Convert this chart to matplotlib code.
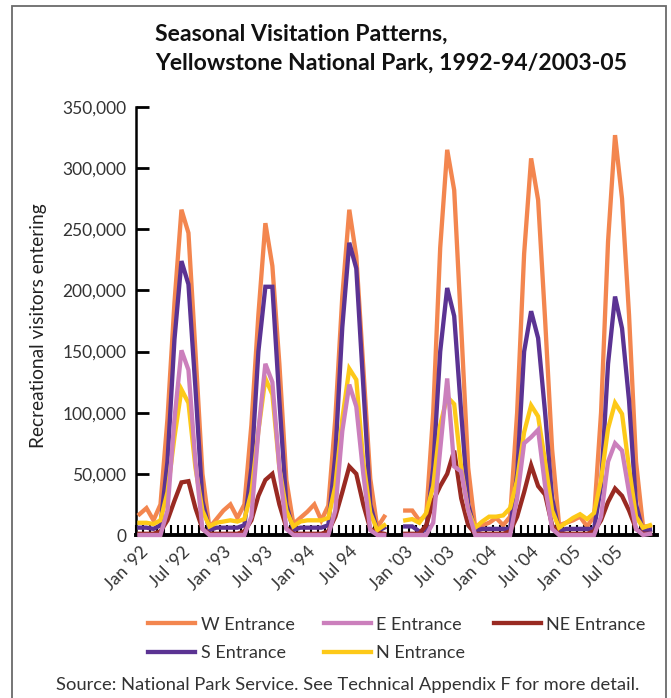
import matplotlib
matplotlib.use('Agg')
import matplotlib.pyplot as plt
import numpy as np
from matplotlib import font_manager as fm
from matplotlib.lines import Line2D
from matplotlib.patches import Rectangle

# ---------------- data (visitors per month) ----------------
# Group A: Jan 1992 - Dec 1994, Group B: Jan 2003 - Dec 2005
W_9294 = [17000, 22000, 12000, 25000, 95000, 190000, 266000, 247000, 150000, 50000, 6000, 13000,
          20000, 25000, 14000, 25000, 90000, 180000, 255000, 220000, 140000, 45000, 9000, 14000,
          19000, 25000, 12000, 24000, 95000, 195000, 266000, 228000, 137000, 46000, 6000, 15000]
W_0305 = [20000, 20000, 12000, 16000, 100000, 235000, 315000, 282000, 170000, 55000, 6000, 8000,
          10000, 14000, 8000, 15000, 100000, 230000, 308000, 274000, 176000, 70000, 8000, 10000,
          12000, 15000, 7000, 15000, 100000, 240000, 327000, 275000, 180000, 60000, 7000, 7000]

S_9294 = [6000, 6000, 5000, 8000, 60000, 160000, 224000, 205000, 120000, 28000, 4000, 6000,
          6000, 6000, 6000, 8000, 55000, 150000, 203000, 203000, 110000, 25000, 4000, 6000,
          6000, 6000, 6000, 8000, 65000, 170000, 239000, 218000, 122000, 25000, 3000, 6000]
S_0305 = [7000, 7000, 3000, 4000, 55000, 150000, 202000, 179000, 100000, 25000, 3000, 5000,
          5000, 5000, 5000, 5000, 50000, 150000, 183000, 161000, 100000, 30000, 3000, 5000,
          5000, 5000, 5000, 5000, 40000, 140000, 195000, 169000, 110000, 25000, 3000, 4000]

E_9294 = [0, 0, 0, 0, 20000, 95000, 151000, 135000, 60000, 5000, 0, 0,
          0, 0, 0, 0, 15000, 85000, 140000, 125000, 55000, 5000, 0, 0,
          0, 0, 0, 0, 20000, 85000, 123000, 105000, 50000, 4000, 0, 0]
E_0305 = [0, 0, 0, 0, 10000, 70000, 128000, 56000, 52000, 20000, 0, 0,
          0, 0, 0, 0, 30000, 75000, 80000, 86000, 40000, 5000, 0, 0,
          0, 0, 0, 0, 15000, 60000, 75000, 69000, 35000, 5000, 0, 1000]

N_9294 = [10000, 10000, 9000, 12000, 35000, 80000, 119000, 108000, 55000, 20000, 7000, 10000,
          11000, 12000, 11000, 13000, 35000, 85000, 128000, 115000, 55000, 20000, 7000, 11000,
          12000, 12000, 12000, 14000, 40000, 95000, 136000, 127000, 60000, 18000, 4000, 8000]
N_0305 = [12000, 13000, 10000, 18000, 40000, 90000, 113000, 107000, 55000, 20000, 6000, 11000,
          15000, 15000, 16000, 22000, 45000, 84000, 106000, 97000, 60000, 20000, 6000, 10000,
          14000, 17000, 13000, 18000, 45000, 87000, 108000, 99000, 55000, 15000, 6000, 8000]

NE_9294 = [1000, 1000, 1000, 3000, 12000, 28000, 43000, 44000, 22000, 5000, 1000, 1000,
           1000, 1000, 1000, 3000, 12000, 32000, 45000, 50000, 25000, 6000, 1000, 1000,
           1000, 1000, 1000, 3000, 15000, 35000, 56000, 50000, 25000, 5000, 2000, 1000]
NE_0305 = [1000, 1000, 1000, 8000, 28000, 40000, 50000, 69000, 30000, 8000, 1000, 1000,
           1000, 1000, 1000, 3000, 15000, 35000, 57000, 40000, 33000, 8000, 1000, 1000,
           1000, 1000, 1000, 3000, 12000, 27000, 38000, 32000, 20000, 5000, 1000, 1000]

series_names = ["W Entrance", "E Entrance", "NE Entrance", "S Entrance", "N Entrance"]
tick_labels = ["Jan '92", "Jul '92", "Jan '93", "Jul '93", "Jan '94", "Jul 94",
               "Jan '03", "Jul '03", "Jan '04", "Jul '04", "Jan '05", "Jul '05"]

colors = {"W Entrance": "#F3864F", "E Entrance": "#CB7FBC", "NE Entrance": "#992A22",
          "S Entrance": "#5B3393", "N Entrance": "#FDC918"}

# ---------------- fonts ----------------
avail = {f.name for f in fm.fontManager.ttflist}
body_font = 'Lato' if 'Lato' in avail else 'DejaVu Sans'
title_font = 'Liberation Sans Narrow' if 'Liberation Sans Narrow' in avail else body_font
plt.rcParams['font.family'] = [body_font, 'DejaVu Sans']

# ---------------- figure ----------------
W_PX, H_PX = 671, 698
fig = plt.figure(figsize=(W_PX / 100, H_PX / 100), dpi=100)
ax = fig.add_axes([136 / W_PX, 1 - 535 / H_PX, (657 - 136) / W_PX, (535 - 107) / H_PX])

gap = 2
x_a = np.arange(len(W_9294))
x_b = np.arange(len(W_0305)) + len(W_9294) + gap

data = {
    "W Entrance": (W_9294, W_0305),
    "E Entrance": (E_9294, E_0305),
    "NE Entrance": (NE_9294, NE_0305),
    "S Entrance": (S_9294, S_0305),
    "N Entrance": (N_9294, N_0305),
}
zorders = {"W Entrance": 3, "S Entrance": 4, "NE Entrance": 5, "N Entrance": 6, "E Entrance": 7}

lw = 3.1
handles = {}
for name in series_names:
    a, b = data[name]
    for xs, ys in ((x_a, a), (x_b, b)):
        ax.plot(xs, ys, color=colors[name], lw=lw, solid_joinstyle='miter',
                clip_on=False, zorder=zorders[name])
    handles[name] = Line2D([], [], color=colors[name], lw=lw)

ax.set_ylim(0, 350000)
ax.set_xlim(-0.43, x_b[-1] + 1.0)

for s in ['top', 'right']:
    ax.spines[s].set_visible(False)
ax.spines['left'].set_linewidth(1.8)
ax.spines['bottom'].set_linewidth(2.8)
ax.spines['left'].set_zorder(1)
ax.spines['bottom'].set_zorder(1)

yt = np.arange(0, 350001, 50000)
ax.set_yticks(yt)
ax.set_yticklabels([f"{int(v):,}" for v in yt], fontsize=12.5, color='#333333')
ax.tick_params(axis='y', direction='in', length=9, width=2, pad=7, colors='black',
               labelcolor='#333333')

label_pos = np.concatenate([x_a[::6], x_b[::6]])
ax.set_xticks(label_pos)
ax.set_xticklabels(tick_labels, rotation=45, ha='right', va='top',
                   rotation_mode='anchor', fontsize=12.5, color='#333333')
ax.tick_params(axis='x', which='major', length=0, pad=6)
minor = np.arange(-0.5, x_b[-1] + 1.0, 1.0)
ax.set_xticks(minor, minor=True)
ax.tick_params(axis='x', which='minor', direction='in', length=7.5, width=1.5, colors='black')

ax.set_ylabel("Recreational visitors entering", fontsize=13.8, color='#222222')
ax.yaxis.set_label_coords(-0.17, 0.49)

# title
renderer = fig.canvas.get_renderer()
t1 = fig.text(155 / W_PX, 1 - 41 / H_PX, "Seasonal Visitation Patterns,",
              fontsize=17, fontweight='bold', family=[title_font, 'DejaVu Sans'],
              ha='left', va='baseline', color='#111111')
t2 = fig.text(155 / W_PX, 1 - 70 / H_PX, "Yellowstone National Park, 1992-94/2003-05",
              fontsize=17, fontweight='bold', family=[title_font, 'DejaVu Sans'],
              ha='left', va='baseline', color='#111111')
wpx = t2.get_window_extent(renderer).width
fs = 17 * 473 / wpx
t1.set_fontsize(fs)
t2.set_fontsize(fs)

# legend (row-major order arranged for 3 columns)
order = ["W Entrance", "S Entrance", "E Entrance", "N Entrance", "NE Entrance"]
leg = fig.legend([handles[n] for n in order], order, ncol=3, loc='center',
                 bbox_to_anchor=(397 / W_PX, 1 - 639 / H_PX), frameon=False,
                 fontsize=13, handlelength=2.6, handletextpad=0.3,
                 columnspacing=1.6, labelspacing=0.7)
for t in leg.get_texts():
    t.set_color('#333333')

fig.text(348 / W_PX, 1 - 685 / H_PX,
         "Source: National Park Service. See Technical Appendix F for more detail.",
         ha='center', va='center', fontsize=13.2, color='#333333')

# outer frame
fig.patches.append(Rectangle((12 / W_PX, -0.05), (666 - 12) / W_PX, 1.05 - 6 / H_PX,
                             transform=fig.transFigure, fill=False,
                             edgecolor='#6a6a6a', lw=1.3))

fig.savefig("out.png", dpi=100)
